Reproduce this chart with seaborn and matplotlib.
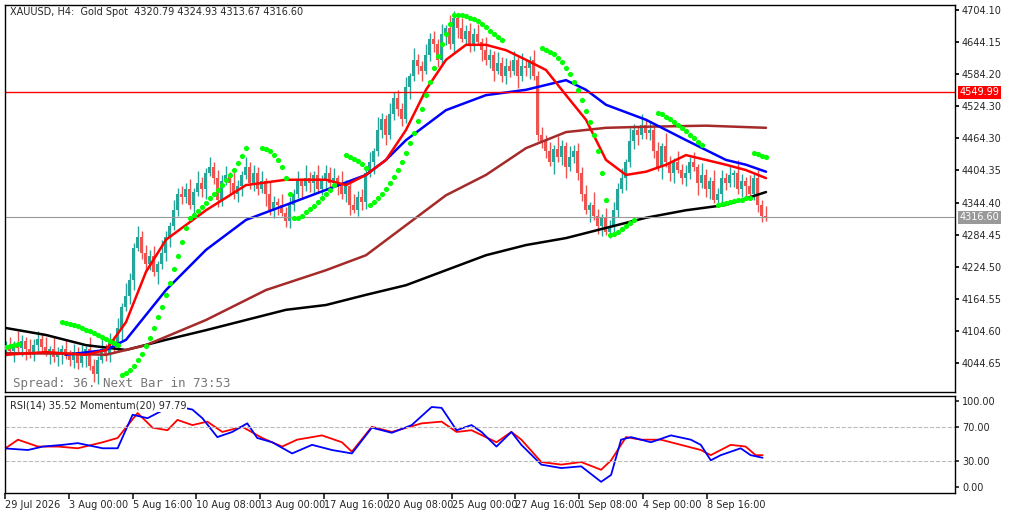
import numpy as np
import pandas as pd
import seaborn as sns
import matplotlib
matplotlib.use("Agg")
import matplotlib.pyplot as plt

sns.set_theme(style="white")
plt.rcParams['font.family'] = ['DejaVu Sans']

closes = [4075,4068,4080,4072,4085,4070,4060,4078,
          4090,4075,4065,4070,4055,4062,4070,4058,
          4050,4065,4045,4060,4070,4040,4025,4050,
          4070,4060,4085,4075,4110,4150,4170,4200,
          4260,4280,4250,4230,4245,4215,4230,4250,
          4280,4300,4330,4360,4355,4370,4340,4365,
          4380,4370,4400,4410,4390,4350,4385,4395,
          4380,4360,4375,4395,4410,4380,4400,4370,
          4385,4360,4330,4345,4340,4325,4310,4340,
          4360,4385,4375,4390,4380,4395,4370,4385,
          4400,4380,4390,4380,4360,4375,4340,4330,
          4355,4345,4400,4420,4440,4480,4500,4470,
          4510,4540,4520,4500,4560,4580,4610,4600,
          4590,4620,4650,4640,4610,4660,4670,4640,
          4690,4670,4650,4665,4640,4660,4645,4630,
          4610,4620,4590,4605,4580,4600,4590,4610,
          4580,4600,4595,4610,4580,4470,4460,4440,
          4420,4445,4430,4450,4410,4430,4440,4400,
          4360,4330,4340,4320,4300,4315,4290,4300,
          4330,4370,4390,4420,4460,4480,4470,4490,
          4475,4480,4440,4410,4450,4420,4400,4420,
          4405,4390,4400,4420,4410,4380,4395,4370,
          4385,4350,4360,4390,4380,4395,4400,4370,
          4385,4375,4360,4390,4340,4320,4316.6]
wick_up = [10, 18, 6, 24, 12, 8, 20, 11, 15]
wick_dn = [12, 7, 22, 9, 15, 19, 6, 11, 14]

# moving averages, sampled at bar indices
red_idx = [0,10,20,25,30,35,40,50,60,70,80,85,90,95,100,105,110,115,120,125,130,135,140,145,150,155,160,165,170,175,180,185,190]
red_val = [4060,4065,4060,4069,4121,4215,4275,4330,4377,4387,4387,4377,4396,4424,4480,4555,4611,4639,4639,4629,4611,4592,4545,4499,4424,4396,4402,4415,4433,4424,4415,4405,4390]
blue_idx = [15,25,30,40,50,60,70,80,90,95,100,110,120,130,140,145,150,160,170,180,185,190]
blue_val = [4060,4069,4088,4181,4256,4312,4340,4368,4396,4424,4461,4517,4545,4555,4573,4555,4527,4499,4461,4424,4415,4402]
brown_idx = [0,15,25,35,50,65,80,90,100,110,120,130,140,150,160,175,190]
brown_val = [4063,4062,4060,4078,4125,4181,4218,4246,4302,4358,4396,4446,4476,4484,4486,4488,4484]
black_idx = [0,10,20,30,40,50,60,70,80,90,100,110,120,130,140,150,160,170,180,190]
black_val = [4110,4097,4078,4069,4088,4106,4125,4144,4153,4172,4190,4218,4246,4265,4278,4297,4316,4330,4340,4364]

# parabolic SAR dots
sar_idx = (list(range(0, 4)) + list(range(14, 29)) + list(range(29, 61)) + list(range(64, 73))
           + list(range(73, 83)) + list(range(85, 91)) + list(range(91, 113)) + list(range(113, 125))
           + list(range(134, 151)) + list(range(151, 158)) + list(range(163, 175))
           + list(range(178, 187)) + list(range(187, 191)))
sar_val = ([4075,4076,4078,4080]
           + [4121,4120,4118,4116,4113,4110,4107,4104,4100,4097,4093,4089,4085,4082,4078]
           + [4022,4026,4032,4040,4050,4062,4076,4092,4110,4130,4150,4172,4195,4220,4245,4270,4296,
              4315,4321,4328,4336,4344,4352,4360,4368,4377,4386,4396,4406,4418,4432,4446]
           + [4446,4444,4440,4434,4424,4410,4390,4360,4315]
           + [4315,4320,4326,4332,4338,4345,4352,4360,4368,4377]
           + [4433,4430,4426,4422,4416,4409]
           + [4340,4346,4353,4361,4370,4380,4392,4405,4420,4437,4455,4475,4497,4520,4545,4570,4595,
              4618,4640,4660,4678,4695]
           + [4695,4694,4692,4690,4687,4683,4678,4672,4665,4659,4654,4648]
           + [4633,4630,4626,4621,4614,4606,4596,4584,4570,4554,4536,4516,4494,4470,4440,4400,4349]
           + [4284,4286,4290,4295,4300,4306,4312]
           + [4512,4509,4505,4500,4495,4490,4484,4478,4471,4465,4458,4452]
           + [4340,4342,4344,4346,4347,4349,4350,4352,4353]
           + [4437,4435,4432,4430])

# RSI / Momentum
blue_r_x = [0,25,40,60,75,100,115,130,145,170,190,200,215,230,245,255,270,290,310,330,350,370,390,410,430,440,455,470,480,495,510,520,540,560,580,600,610,620,630,650,670,690,700,710,720,740,750,762]
blue_r_v = [45,43,47,49,51,45,45,84,80,95,90,80,58,64,74,57,52,39,49,43,39,69,63,72,93,92,66,72,64,47,64,49,26,22,24,6,14,55,58,52,60,55,49,31,37,45,37,34]
red_r_x = [0,15,35,55,75,100,115,135,150,165,175,190,205,220,240,260,280,295,320,340,350,370,390,420,440,455,470,495,510,520,540,560,580,600,610,625,640,660,680,700,710,730,745,755,762]
red_r_v = [43,55,47,47,45,52,57,86,69,66,78,72,76,64,70,57,47,55,60,52,41,70,64,74,76,64,66,52,64,55,29,26,29,20,31,58,55,55,49,43,37,49,47,37,37]

price_ticks = [4704.10,4644.15,4584.20,4524.30,4464.30,4404.35,4344.40,4284.45,4224.50,4164.55,4104.60,4044.65]
date_labels = ["29 Jul 2026","3 Aug 00:00","5 Aug 16:00","10 Aug 08:00","13 Aug 00:00","17 Aug 16:00",
               "20 Aug 08:00","25 Aug 00:00","27 Aug 16:00","1 Sep 08:00","4 Sep 00:00","8 Sep 16:00"]
rsi_ticks = [100.00, 70.00, 30.00, 0.00]

W, H = 1012, 513
fig = plt.figure(figsize=(W/100, H/100), dpi=100)
fig.patch.set_facecolor("white")
ax = fig.add_axes([5/W, 1-392/H, 950/W, 387/H])
ax2 = fig.add_axes([5/W, 1-493/H, 950/W, 97/H])

n = len(closes)
idx = np.arange(n)
opens = [closes[0]-5] + closes[:-1]
highs = [max(o, c) + wick_up[i % 9] for i, (o, c) in enumerate(zip(opens, closes))]
lows = [min(o, c) - wick_dn[i % 9] for i, (o, c) in enumerate(zip(opens, closes))]
up_c, dn_c = "#26a69a", "#ef5350"
cols = [up_c if c >= o else dn_c for o, c in zip(opens, closes)]
ax.vlines(idx, lows, highs, colors=cols, linewidth=1)
ax.bar(idx, [abs(c-o) if abs(c-o) > 1 else 1.5 for o, c in zip(opens, closes)],
       bottom=[min(o, c) for o, c in zip(opens, closes)], width=0.75, color=cols, linewidth=0)

for xi, v, c in [(black_idx, black_val, "black"), (brown_idx, brown_val, "#a52a2a"),
                 (blue_idx, blue_val, "blue"), (red_idx, red_val, "red")]:
    sns.lineplot(x=xi, y=v, ax=ax, color=c, linewidth=1.8)
sns.scatterplot(x=sar_idx, y=sar_val, ax=ax, color="#00ff00", s=14, linewidth=0, zorder=5)

ax.axhline(4549.99, color="red", linewidth=1)
ax.axhline(4316.60, color="#999999", linewidth=0.8)

ax.set_xlim(-0.25, 237.25)
ax.set_ylim(3990.5, 4713.4)
ax.set_xticks([])
ax.yaxis.tick_right()
ax.set_yticks(price_ticks)
ax.set_yticklabels([f"{t:.2f}" for t in price_ticks], fontsize=7)
ax.tick_params(axis="y", length=3, pad=2, right=True, color="black")
for s in ax.spines.values():
    s.set_color("black"); s.set_linewidth(1)
ax.text(0.005, 0.995, "XAUUSD, H4:  Gold Spot  4320.79 4324.93 4313.67 4316.60",
        transform=ax.transAxes, fontsize=7, va="top")
ax.text(0.008, 0.005, "Spread: 36. Next Bar in 73:53", transform=ax.transAxes,
        fontsize=9, family="DejaVu Sans Mono", color="#777777", va="bottom")
for y, txt, bg in [(4549.99, "4549.99", "red"), (4316.60, "4316.60", "#999999")]:
    ax.text(1.005, y, txt, transform=ax.get_yaxis_transform(), fontsize=7, color="white",
            va="center", ha="left", bbox=dict(boxstyle="square,pad=0.15", fc=bg, ec="none"))

bx = [(x-6)/4 for x in blue_r_x]
rx = [(x-6)/4 for x in red_r_x]
sns.lineplot(x=rx, y=red_r_v, ax=ax2, color="red", linewidth=1.3)
sns.lineplot(x=bx, y=blue_r_v, ax=ax2, color="blue", linewidth=1.3)
for v in (70, 30):
    ax2.axhline(v, color="#bbbbbb", linestyle="--", linewidth=0.8)
ax2.set_xlim(-0.25, 237.25)
ax2.set_ylim(-7, 105.8)
ax2.yaxis.tick_right()
ax2.set_yticks(rsi_ticks)
ax2.set_yticklabels([f"{t:.2f}" for t in rsi_ticks], fontsize=7)
ax2.tick_params(axis="y", length=3, pad=2, right=True)
ax2.set_xticks([16*k - 1 for k in range(len(date_labels))])
ax2.set_xticklabels(date_labels, fontsize=7, ha="left")
ax2.tick_params(axis="x", length=4, pad=1, bottom=True)
for s in ax2.spines.values():
    s.set_color("black"); s.set_linewidth(1)
ax2.text(0.005, 0.95, "RSI(14) 35.52 Momentum(20) 97.79", transform=ax2.transAxes, fontsize=7, va="top",
         bbox=dict(fc="white", ec="none", pad=0.5))

fig.savefig("out.png", dpi=100)
